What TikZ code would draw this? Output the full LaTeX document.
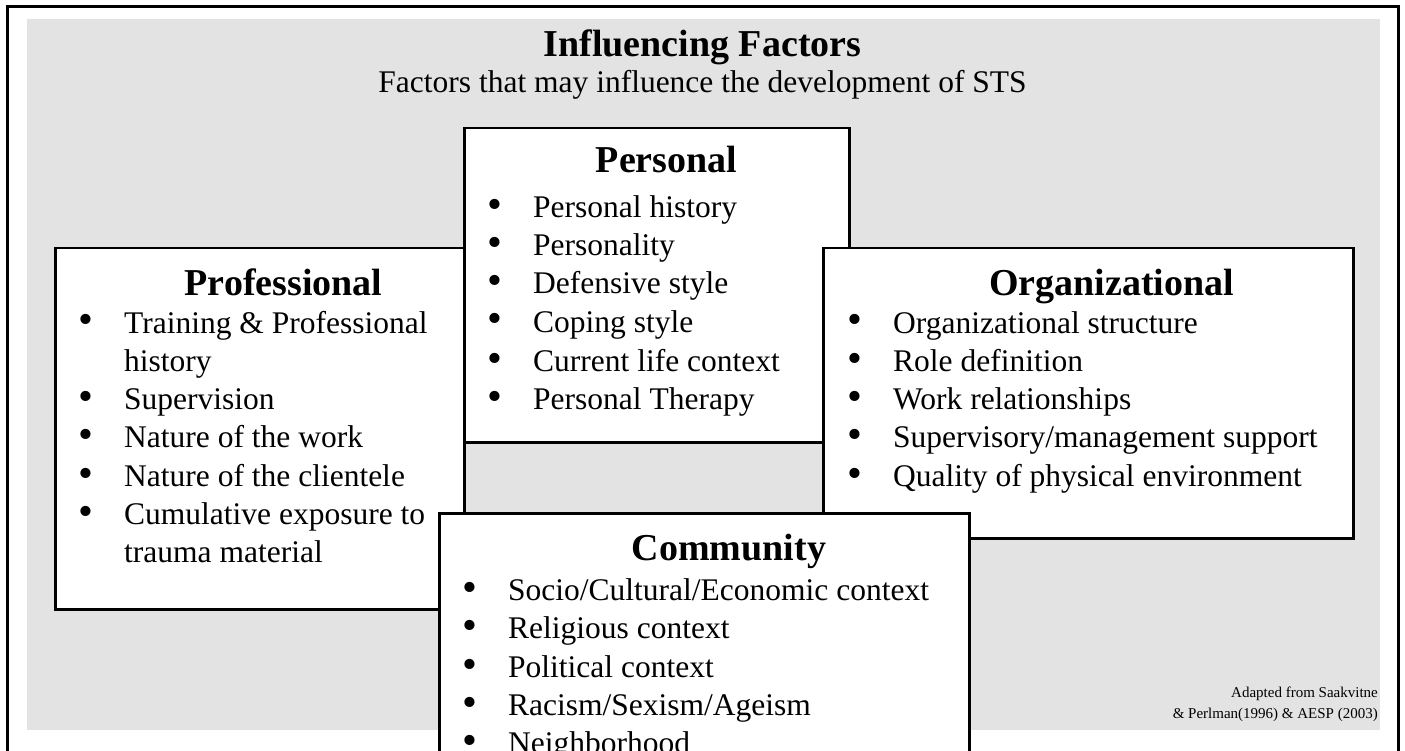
\documentclass[tikz,border=0pt]{standalone}
\usepackage{fontspec}
\setmainfont{Liberation Serif}
\usetikzlibrary{positioning}

\definecolor{panelgray}{RGB}{227,227,227}
\newcommand{\itemdot}{\makebox[46pt][l]{\smash{\raisebox{-1pt}{\scalebox{1.35}{\textbullet}}}}}

\tikzset{
    factorbox/.style={draw, line width=2.5pt, fill=white, inner sep=0pt, anchor=north west},
    boxhead/.style={font=\fontsize{38}{40}\selectfont\bfseries, anchor=base, inner sep=0pt},
    boxitem/.style={font=\fontsize{31.5}{38}\selectfont, anchor=base west, inner sep=0pt},
}

\begin{document}
\begin{tikzpicture}[x=1pt,y=-1pt]
    \useasboundingbox (0,0) rectangle (1405,751);
    \clip (0,0) rectangle (1405,751);
    % grey panel and frame
    \fill[panelgray] (27,19) rectangle (1380,730);
    \draw[line width=3pt]
    (7,760) to (7,7) to (1398,7) to (1398,760)
    ;
    \node[boxhead] (title) at (702.5,57) {Influencing Factors};
    \node[boxitem, anchor=base] (subtitle) at (702.5,93)
        {Factors that may influence the development of STS};

    % professional
    \node[factorbox, minimum width=409pt, minimum height=361pt] (prof) at (54,247) {};
    \draw
    (283.5,295) node[boxhead] (prof-head) {Professional}
    (78,333) node[boxitem] (prof-1) {\itemdot Training \& Professional}
    (124,371) node[boxitem] (prof-1b) {history}
    (78,409) node[boxitem] (prof-2) {\itemdot Supervision}
    (78,447) node[boxitem] (prof-3) {\itemdot Nature of the work}
    (78,486) node[boxitem] (prof-4) {\itemdot Nature of the clientele}
    (78,524) node[boxitem] (prof-5) {\itemdot Cumulative exposure to}
    (124,562) node[boxitem] (prof-5b) {trauma material}
    ;

    % personal
    \node[factorbox, minimum width=385pt, minimum height=314pt] (pers) at (463,127) {};
    \draw
    (666.5,173) node[boxhead] (pers-head) {Personal}
    (487,218) node[boxitem] (pers-1) {\itemdot Personal history}
    (487,256) node[boxitem] (pers-2) {\itemdot Personality}
    (487,294) node[boxitem] (pers-3) {\itemdot Defensive style}
    (487,332) node[boxitem] (pers-4) {\itemdot Coping style}
    (487,371) node[boxitem] (pers-5) {\itemdot Current life context}
    (487,409) node[boxitem] (pers-6) {\itemdot Personal Therapy}
    ;

    % organizational
    \node[factorbox, minimum width=530pt, minimum height=290pt] (org) at (822,247) {};
    \draw
    (1111.5,295) node[boxhead] (org-head) {Organizational}
    (847,333) node[boxitem] (org-1) {\itemdot Organizational structure}
    (847,371) node[boxitem] (org-2) {\itemdot Role definition}
    (847,409) node[boxitem] (org-3) {\itemdot Work relationships}
    (847,447) node[boxitem] (org-4) {\itemdot Supervisory/management support}
    (847,486) node[boxitem] (org-5) {\itemdot Quality of physical environment}
    ;

    % community
    \node[factorbox, minimum width=530pt, minimum height=300pt] (comm) at (438,512) {};
    \draw
    (729,560) node[boxhead] (comm-head) {Community}
    (462,600) node[boxitem] (comm-1) {\itemdot Socio/Cultural/Economic context}
    (462,638) node[boxitem] (comm-2) {\itemdot Religious context}
    (462,677) node[boxitem] (comm-3) {\itemdot Political context}
    (462,715) node[boxitem] (comm-4) {\itemdot Racism/Sexism/Ageism}
    (462,753) node[boxitem] (comm-5) {\itemdot Neighborhood}
    ;

    % source note
    \node[font=\fontsize{15}{21}\selectfont, align=right, anchor=south east, inner sep=0pt]
        (source) at (1378,722) {Adapted from Saakvitne\\ \& Perlman(1996) \& AESP (2003)};
\end{tikzpicture}
\end{document}
